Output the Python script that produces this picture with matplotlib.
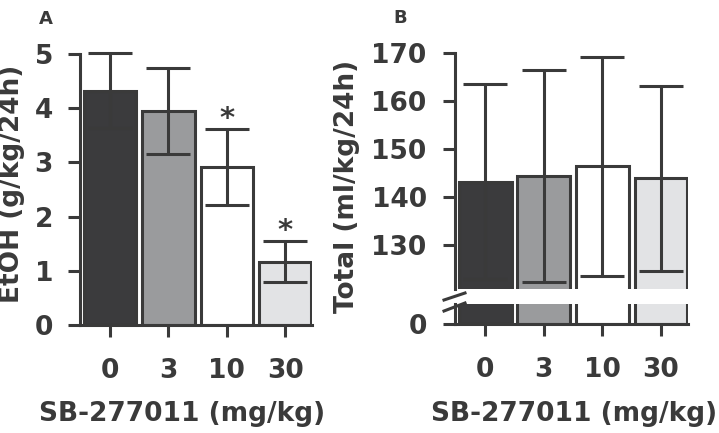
import matplotlib
matplotlib.use("Agg")
import matplotlib.pyplot as plt
from matplotlib.lines import Line2D

# data
doses = ["0", "3", "10", "30"]
etoh_mean = [4.32, 3.95, 2.92, 1.17]
etoh_sem = [0.69, 0.80, 0.70, 0.38]
etoh_signif = [False, False, True, True]
total_mean = [143.2, 144.4, 146.4, 143.9]
total_sem = [20.3, 22.0, 22.8, 19.2]

bar_colors = ["#3b3b3d", "#9a9b9d", "#ffffff", "#e2e3e5"]
dark = "#3a3a3a"

plt.rcParams["font.family"] = "DejaVu Sans"
plt.rcParams["font.weight"] = "bold"
plt.rcParams["font.size"] = 19

W, H = 719, 433


def px(left, top, right, bottom):
    return [left / W, (H - bottom) / H, (right - left) / W, (bottom - top) / H]


def style(ax, pad_y, pad_x=15.5):
    for s in ["top", "right"]:
        ax.spines[s].set_visible(False)
    for s in ["left", "bottom"]:
        ax.spines[s].set_linewidth(2.2)
        ax.spines[s].set_color(dark)
    ax.tick_params(axis="both", direction="out", length=8.6, width=2.2,
                   color=dark, labelcolor=dark, labelsize=19)
    ax.tick_params(axis="y", pad=pad_y)
    ax.tick_params(axis="x", pad=pad_x)


def bars(ax, means, sems, err=True):
    x = range(len(doses))
    ax.bar(x, means, width=0.9, color=bar_colors, edgecolor=dark,
           linewidth=2.2, zorder=2)
    if err:
        ax.errorbar(x, means, yerr=sems, fmt="none", ecolor=dark,
                    elinewidth=2.2, capsize=16, capthick=2.2, zorder=3,
                    clip_on=False)


fig = plt.figure(figsize=(W / 100, H / 100), dpi=100)

# panel A
axA = fig.add_axes(px(80, 54, 312, 325))
bars(axA, etoh_mean, etoh_sem)
axA.set_xlim(-0.515, 3.46)
axA.set_ylim(0, 5)
axA.set_yticks(range(0, 6))
axA.set_xticks(range(len(doses)))
axA.set_xticklabels(doses)
style(axA, pad_y=10.8)
for i, sig in enumerate(etoh_signif):
    if sig:
        axA.annotate("*", (i, etoh_mean[i] + etoh_sem[i]), xytext=(0, 7),
                     textcoords="offset points", ha="center", va="center",
                     fontsize=21, color=dark)

# panel B, broken axis
axB = fig.add_axes(px(455, 52.7, 688, 289))
axB0 = fig.add_axes(px(455, 304, 688, 324))
bars(axB, total_mean, total_sem)
bars(axB0, total_mean, total_sem, err=False)
axB.set_xlim(-0.515, 3.46)
axB0.set_xlim(-0.515, 3.46)
axB.set_ylim(130 - (289 - 245) / 4.81, 170)
axB.set_yticks([130, 140, 150, 160, 170])
axB0.set_ylim(0, 4)
axB0.set_yticks([0])
axB0.set_xticks(range(len(doses)))
axB0.set_xticklabels(doses)
style(axB, pad_y=11.8)
style(axB0, pad_y=11.8)
axB.spines["bottom"].set_visible(False)
axB.tick_params(axis="x", bottom=False, labelbottom=False)

# break marks
for y0, y1 in [(300, 293), (311, 303)]:
    fig.add_artist(Line2D([444 / W, 465 / W], [(H - y0) / H, (H - y1) / H],
                          color=dark, linewidth=2.2))

# labels
fig.text(12 / W, 1 - 184 / H, "EtOH (g/kg/24h)", rotation=90,
         ha="center", va="center", color=dark)
fig.text(347 / W, 1 - 186 / H, "Total (ml/kg/24h)", rotation=90,
         ha="center", va="center", color=dark)
fig.text(182.5 / W, 1 - 421 / H, "SB-277011 (mg/kg)", ha="center",
         va="baseline", color=dark)
fig.text(574 / W, 1 - 421 / H, "SB-277011 (mg/kg)", ha="center",
         va="baseline", color=dark)
fig.text(46 / W, 1 - 19 / H, "A", ha="center", va="center", fontsize=13,
         color=dark)
fig.text(400 / W, 1 - 18 / H, "B", ha="center", va="center", fontsize=13,
         color=dark)

fig.savefig("out.png", dpi=100)
